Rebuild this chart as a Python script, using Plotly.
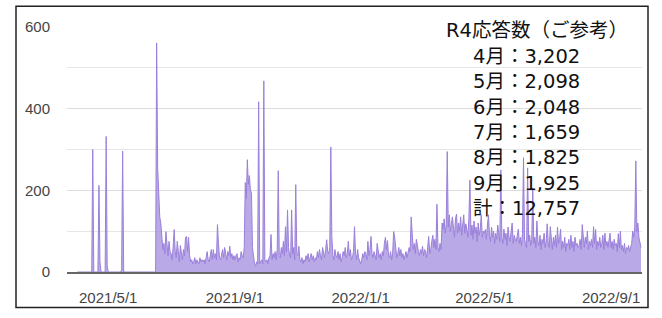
import pandas as pd
import plotly.graph_objects as go

# --- sparse early period (explicit points) ---
early_dates = ["2021-04-01", "2021-04-15", "2021-04-16", "2021-04-17", "2021-04-21",
               "2021-04-22", "2021-04-23", "2021-04-24", "2021-04-28", "2021-04-29",
               "2021-04-30", "2021-05-01", "2021-05-13", "2021-05-14", "2021-05-15",
               "2021-05-16", "2021-06-16"]
early_values = [0, 0, 300, 0, 0, 212, 25, 0, 0, 332, 15, 0, 0, 5, 296, 0, 0]

# --- daily values from 2021-06-17 ---
daily_start = "2021-06-17"
v2021_06 = [561, 255, 190, 135, 120, 80, 55, 70, 45, 99, 60, 40, 75, 50]
v2021_07 = [45, 30, 60, 104, 50, 35, 75, 40, 25, 65, 45, 30, 55, 40, 85, 87, 50, 85, 40, 25,
            30, 20, 25, 35, 20, 30, 25, 20, 35, 25, 30]
v2021_08 = [25, 30, 20, 35, 50, 30, 25, 40, 55, 30, 55, 35, 45, 30, 116, 70, 35, 30, 40, 55,
            35, 60, 45, 30, 50, 40, 63, 35, 45, 30, 40]
v2021_09 = [30, 40, 45, 25, 35, 30, 50, 40, 35, 60, 219, 180, 275, 215, 236, 200, 195, 60, 40, 20,
            15, 25, 20, 417, 20, 25, 30, 20, 468, 30]
v2021_10 = [25, 30, 20, 35, 40, 92, 30, 45, 35, 50, 30, 55, 248, 40, 35, 60, 45, 75, 40, 111,
            50, 152, 60, 40, 35, 152, 45, 60, 30, 214, 45]
v2021_11 = [40, 63, 30, 25, 35, 20, 30, 25, 40, 30, 45, 25, 35, 45, 30, 40, 25, 35, 30, 50,
            35, 55, 40, 30, 60, 45, 35, 55, 79, 50]
v2021_12 = [45, 60, 306, 87, 40, 30, 55, 40, 35, 50, 30, 45, 25, 35, 50, 40, 60, 35, 45, 75,
            40, 55, 30, 35, 50, 111, 45, 30, 55, 35, 25]
v2022_01 = [20, 30, 45, 35, 50, 45, 30, 75, 40, 55, 87, 45, 35, 50, 40, 30, 70, 45, 35, 45,
            30, 50, 40, 70, 85, 55, 77, 40, 35, 50, 30]
v2022_02 = [45, 99, 85, 50, 35, 45, 60, 40, 55, 35, 45, 30, 40, 50, 35, 45, 60, 50, 135, 94,
            55, 70, 45, 80, 60, 50, 40, 55]
v2022_03 = [45, 63, 40, 55, 50, 35, 60, 87, 45, 55, 75, 90, 60, 80, 55, 166, 60, 50, 70, 55,
            120, 105, 130, 95, 115, 295, 110, 140, 100, 125, 135]
v2022_04 = [110, 85, 130, 142, 95, 120, 100, 135, 90, 125, 140, 95, 118, 105, 85, 130, 225, 90, 115, 80,
            125, 95, 110, 75, 120, 90, 105, 140, 85, 100]
v2022_05 = [95, 104, 80, 115, 140, 90, 75, 110, 85, 100, 70, 95, 80, 115, 90, 75, 250, 85, 70, 105,
            80, 95, 65, 110, 85, 75, 100, 120, 70, 90, 80]
v2022_06 = [75, 90, 105, 70, 85, 65, 95, 280, 80, 70, 60, 255, 75, 90, 65, 80, 205, 70, 85, 60,
            125, 75, 65, 90, 55, 80, 70, 95, 60, 75]
v2022_07 = [118, 70, 60, 111, 75, 55, 85, 65, 90, 60, 110, 70, 80, 105, 55, 75, 60, 85, 50, 70,
            65, 80, 55, 90, 60, 75, 50, 85, 65, 70, 60]
v2022_08 = [65, 80, 55, 116, 75, 60, 85, 70, 100, 55, 75, 65, 80, 60, 111, 70, 104, 55, 75, 65,
            85, 60, 70, 90, 55, 95, 65, 75, 60, 80, 95]
v2022_09 = [60, 75, 55, 80, 65, 70, 50, 94, 60, 100, 55, 65, 50, 70, 45, 60, 55, 65, 50, 60,
            70, 100, 85, 110, 272, 100, 120, 85, 70, 60]

tick_dates = ["2021-05-01", "2021-09-01", "2022-01-01", "2022-05-01", "2022-09-01"]
tick_labels = ["2021/5/1", "2021/9/1", "2022/1/1", "2022/5/1", "2022/9/1"]

note_title = "R4応答数（ご参考）"
note_months = ["4月", "5月", "6月", "7月", "8月", "9月", "計"]
note_counts = ["3,202", "2,098", "2,048", "1,659", "1,825", "1,925", "12,757"]

daily_values = (v2021_06 + v2021_07 + v2021_08 + v2021_09 + v2021_10 + v2021_11 + v2021_12 +
                v2022_01 + v2022_02 + v2022_03 + v2022_04 + v2022_05 + v2022_06 + v2022_07 +
                v2022_08 + v2022_09)
daily_dates = pd.date_range(daily_start, periods=len(daily_values), freq="D")

x_all = list(pd.to_datetime(early_dates)) + list(daily_dates)
y_all = early_values + daily_values

fig = go.Figure()
fig.add_trace(go.Scatter(
    x=x_all, y=y_all, mode="lines", fill="tozeroy",
    line=dict(color="#9a80da", width=1),
    fillcolor="rgba(150,124,218,0.66)",
    hoverinfo="skip", showlegend=False,
))

W, H = 662, 318
L, R, T, B = 67, 20, 27, 42
pw, ph = W - L - R, H - T - B

def px_x(p):
    return (p - L) / pw

def px_y(p):
    return (H - B - p) / ph

fig.update_layout(
    width=W, height=H,
    margin=dict(l=L, r=R, t=T, b=B),
    paper_bgcolor="white", plot_bgcolor="white",
    font=dict(family="Liberation Sans, Arial, sans-serif", size=15, color="#444"),
    xaxis=dict(
        type="date", range=["2021-03-22", "2022-10-01"],
        tickvals=tick_dates, ticktext=tick_labels,
        showgrid=False, showline=True, linecolor="#666", linewidth=1.5,
        ticks="", ticklabelstandoff=11, zeroline=False,
        tickfont=dict(size=15, color="#444"),
    ),
    yaxis=dict(
        range=[0, 600], tickvals=[0, 200, 400, 600],
        showgrid=True, gridcolor="#dcdcdc", gridwidth=1,
        minor=dict(tickvals=[100, 300, 500], showgrid=True, gridcolor="#e6e6e6", gridwidth=1),
        zeroline=False, showline=False, ticks="", ticklabelstandoff=16,
        tickfont=dict(size=15, color="#444"),
    ),
)

# outer border
fig.add_shape(type="rect", xref="paper", yref="paper",
              x0=px_x(16), x1=px_x(648), y0=px_y(312), y1=px_y(6),
              line=dict(color="#222", width=1.5), fillcolor="rgba(0,0,0,0)", layer="above")

note_font = dict(family="DejaVu Sans, Noto Sans CJK JP", size=19.5, color="#111")
fig.add_annotation(
    x=px_x(537), y=px_y(31), xref="paper", yref="paper",
    text=note_title, showarrow=False, xanchor="center", yanchor="middle",
    font=note_font, borderpad=0, borderwidth=0,
)
body = "<br>".join(f"{m}：{c}" for m, c in zip(note_months, note_counts))
fig.add_annotation(
    x=px_x(526), y=px_y(134), xref="paper", yref="paper",
    text=body, showarrow=False, xanchor="center", yanchor="middle", align="center",
    font=note_font, borderpad=0, borderwidth=0,
)

fig.write_html("out.html", config={"displayModeBar": False},
               post_script="document.body.style.margin='0';")
